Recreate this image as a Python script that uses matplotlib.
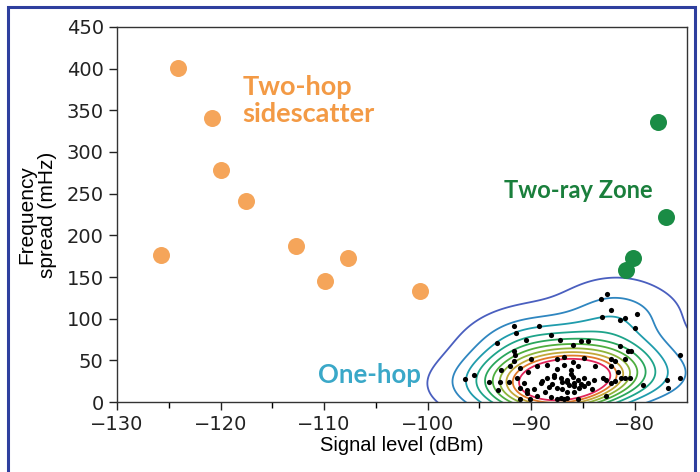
import numpy as np
import matplotlib
matplotlib.use("Agg")
import matplotlib.pyplot as plt
from matplotlib.patches import Rectangle

# ---- data ----
sidescatter_x = [-124.1, -125.7, -120.8, -120.0, -117.5, -112.7, -109.9, -107.7, -100.7]
sidescatter_y = [401, 176, 341, 278, 241, 187, 145, 173, 133]

tworay_x = [-77.8, -77.0, -80.2, -80.9]
tworay_y = [336, 222, 173, 158]

onehop_x = [-82.71, -83.26, -82.29, -83.16, -79.75, -80.92, -81.47, -80.01, -91.65, -89.21,
            -91.48, -88.14, -90.47, -87.23, -93.27, -86.02, -85.21, -84.56, -81.47, -80.66,
            -80.34, -75.62, -91.71, -91.58, -89.99, -87.55, -86.83, -84.95, -86.02, -82.35,
            -80.99, -91.71, -92.04, -92.91, -91.06, -90.35, -89.44, -88.46, -87.48, -86.83,
            -86.19, -85.54, -83.85, -82.29, -81.96, -81.64, -81.31, -80.50, -96.39, -95.54,
            -94.05, -93.01, -92.20, -91.39, -90.74, -89.11, -88.46, -87.81, -87.16, -86.51,
            -86.02, -85.54, -84.89, -84.56, -85.21, -85.86, -86.35, -87.00, -87.97, -88.30,
            -88.95, -83.91, -83.10, -82.77, -82.29, -81.96, -80.92, -76.92, -75.62, -76.83,
            -79.26, -93.24, -91.06, -90.41, -89.76, -87.48, -87.00, -86.51, -85.86, -85.37,
            -90.09, -89.44, -88.14, -87.48, -87.16, -86.83, -86.51, -85.54, -82.77, -84.17,
            -90.41, -91.06, -86.6, -85.9, -87.8, -86.2, -84.9, -88.7]
onehop_y = [129.8, 123.8, 110.4, 102.7, 105.5, 101.5, 98.7, 88.5, 91.8, 91.0,
            82.5, 80.4, 74.4, 74.0, 71.5, 69.1, 73.1, 73.1, 67.1, 61.0,
            61.0, 56.1, 61.0, 56.9, 52.1, 52.1, 53.7, 52.9, 48.0, 52.1,
            52.1, 48.8, 42.8, 38.3, 40.7, 36.7, 42.8, 44.8, 39.9, 44.8,
            38.7, 42.8, 42.8, 42.8, 48.8, 36.7, 28.6, 28.6, 27.4, 32.6,
            23.7, 24.5, 24.5, 28.6, 23.3, 22.5, 28.6, 30.6, 28.6, 26.6,
            30.6, 26.6, 28.6, 22.5, 21.3, 22.5, 20.5, 24.5, 21.3, 18.5,
            25.4, 26.6, 28.6, 26.6, 22.5, 25.4, 29.4, 26.6, 29.4, 17.3,
            20.5, 14.4, 16.4, 14.4, 15.6, 16.4, 15.6, 12.4, 12.4, 16.4,
            4.3, 7.5, 6.3, 4.3, 5.1, 4.3, 5.1, 4.3, 7.5, 15.6,
            10.4, 4.3, 24.0, 19.0, 33.0, 33.5, 19.5, 12.0]

x_ticks = [-130, -120, -110, -100, -90, -80]
y_ticks = [0, 50, 100, 150, 200, 250, 300, 350, 400, 450]

contour_colors = ["#4a5fbf", "#2f86c0", "#1f9cac", "#1ea48a", "#2aa65c",
                  "#4fae3e", "#8eb43a", "#c3a83a", "#e07a2a", "#e0255a"]
contour_fracs = [0.035, 0.11, 0.18, 0.25, 0.32, 0.39, 0.46, 0.53, 0.60, 0.67]

# ---- KDE (Gaussian) ----
pts = np.vstack([onehop_x, onehop_y])
cov = np.cov(pts) * 0.55
inv = np.linalg.inv(cov)
gx = np.linspace(-115, -55, 400)
gy = np.linspace(-150, 300, 450)
GX, GY = np.meshgrid(gx, gy)
grid = np.vstack([GX.ravel(), GY.ravel()])
diff = grid[:, :, None] - pts[:, None, :]
q = inv[0, 0] * diff[0] ** 2 + 2 * inv[0, 1] * diff[0] * diff[1] + inv[1, 1] * diff[1] ** 2
Z = np.exp(-0.5 * q).sum(axis=1).reshape(GX.shape)
Z = Z / Z.max()

fig = plt.figure(figsize=(7, 4.72), dpi=100)
ax = fig.add_axes([0.167, 0.148, 0.814, 0.795])

ax.contour(GX, GY, Z, levels=contour_fracs, colors=contour_colors, linewidths=1.3, zorder=2)

ax.scatter(onehop_x, onehop_y, s=14, color="black", zorder=3, linewidths=0)
ax.scatter(sidescatter_x, sidescatter_y, s=150, color="#f5a55a", zorder=4, linewidths=0)
ax.scatter(tworay_x, tworay_y, s=150, color="#1a8c45", zorder=4, linewidths=0)

ax.set_xlim(-130, -75)
ax.set_ylim(0, 450)
ax.set_xticks(x_ticks)
ax.set_xticks(np.arange(-125, -75, 10), minor=True)
ax.set_yticks(y_ticks)
ax.tick_params(axis="both", which="major", direction="out", length=6, width=1,
               labelsize=14, colors="#222222")
ax.tick_params(axis="x", which="minor", direction="out", length=4, width=1)
ax.tick_params(top=False, right=False)
for s in ax.spines.values():
    s.set_color("#333333")
    s.set_linewidth(1)

ax.set_xlabel("Signal level (dBm)", fontsize=14.5, family="Liberation Sans", labelpad=1)
ax.set_ylabel("Frequency\nspread (mHz)", fontsize=15, family="Liberation Sans",
              linespacing=1.1)
ax.yaxis.set_label_coords(-0.105, 0.5)

ax.text(-117.9, 392, "Two-hop\nsidescatter", color="#f39a45", fontsize=19.5,
        fontweight="bold", family="Lato", va="top", ha="left", linespacing=1.15)
ax.text(-92.6, 254, "Two-ray Zone", color="#1a7f3c", fontsize=17,
        fontweight="bold", family="Lato", va="center", ha="left")
ax.text(-110.6, 32, "One-hop", color="#3aa8c8", fontsize=18.5,
        fontweight="bold", family="Lato", va="center", ha="left")

fig.patches.append(Rectangle((8 / 700, -0.05), 687 / 700, 1 - 7 / 472 + 0.05,
                             transform=fig.transFigure, fill=False,
                             edgecolor="#2e3f9e", linewidth=2.2, zorder=10))

fig.savefig("out.png", dpi=100)
